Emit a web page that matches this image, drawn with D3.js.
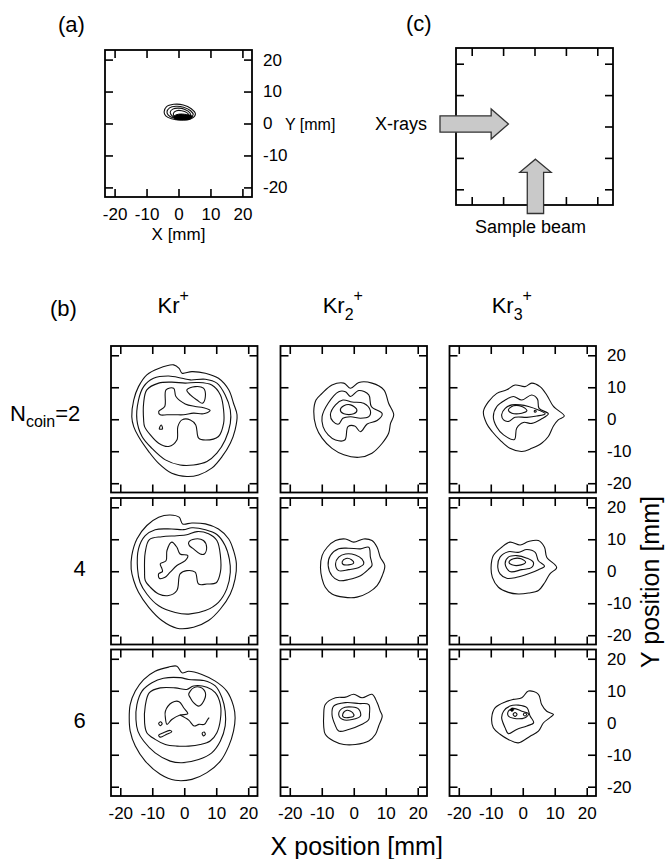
<!DOCTYPE html>
<html>
<head>
<meta charset="utf-8">
<script src="https://cdn.jsdelivr.net/npm/d3@7"></script>
<style>
  body { margin: 0; background: #fff; }
  svg text { font-family: "Liberation Sans", Arial, Helvetica, sans-serif; fill: #000; }
  .frame { fill: none; stroke: #000; stroke-width: 1.8; }
  .tick line { stroke: #000; stroke-width: 1.6; }
  .contour { fill: none; stroke: #111; stroke-width: 1.1; }
  .arrow { fill: #c9c9c9; stroke: #333; stroke-width: 1.3; }
</style>
</head>
<body>
<svg id="chart"></svg>
<script>
'use strict'

const width = 666,
      height = 859

// tick values shared by every panel (mm)
const tickValues = [-20, -10, 0, 10, 20]

// column / row headings of panel (b)
const ionNames = ["Kr", "Kr", "Kr"]
const ionSubs = ["", "2", "3"]
const coinCounts = [2, 4, 6]

// panel (a): contours of the sample beam alone, [x mm, y mm]
const beamContours = [
  [[-4.5,3.6],[-3.8,5.2],[-1.5,6.0],[1.5,5.8],[4.0,4.6],[5.3,3.0],[4.2,1.6],[1.0,1.1],[-2.2,1.5],[-4.0,2.4]],
  [[-3.6,3.6],[-2.8,4.9],[-0.8,5.4],[1.6,5.1],[3.8,4.0],[4.6,2.8],[3.5,1.6],[1.0,1.3],[-1.8,1.8],[-3.2,2.6]],
  [[-2.6,3.5],[-1.8,4.5],[0.0,4.8],[2.0,4.4],[3.6,3.3],[3.8,2.3],[2.4,1.5],[0.5,1.4],[-1.6,2.0]],
  [[-1.6,3.2],[-0.6,4.0],[1.0,4.0],[2.6,3.4],[3.4,2.4],[2.2,1.5],[0.2,1.5],[-1.2,2.1]]
]
const beamCore = [[-1.5,2.2],[0.0,2.9],[2.5,2.8],[4.3,2.2],[3.5,1.3],[1.0,1.1],[-1.0,1.4]]

// panel (c): arrows, [x mm, y mm]
const xrayArrow = [[-30.1,3.4],[-13.8,3.4],[-13.8,5.6],[-8.3,0.8],[-13.8,-4.0],[-13.8,-1.8],[-30.1,-1.8]]
const sampleArrow = [[0.3,-10.4],[5.3,-14.6],[2.9,-14.6],[2.9,-27.7],[-2.3,-27.7],[-2.3,-14.6],[-4.7,-14.6]]

// panel (b), Kr+ ions
const kr1N2 = [
  [[-16.4,0.8],[-15.8,6.0],[-14.3,10.2],[-11.7,13.9],[-8.0,15.9],[-3.3,17.0],[-1.6,15.9],[-0.7,14.4],[2.4,14.9],[6.6,14.4],[10.7,12.8],[13.9,9.2],[15.4,5.0],[16.5,1.4],[15.9,-3.3],[14.4,-7.5],[11.8,-11.7],[8.6,-15.3],[4.5,-17.4],[0.8,-17.9],[-3.9,-16.9],[-8.0,-13.8],[-11.1,-10.1],[-14.3,-5.4],[-15.8,-2.3]],
  [[-14.8,-0.2],[-14.3,6.0],[-12.7,10.2],[-9.6,12.8],[-4.9,13.5],[-0.7,12.8],[1.9,12.3],[6.6,12.5],[10.2,11.3],[12.8,7.6],[14.4,2.9],[14.4,-1.3],[12.8,-6.5],[10.2,-10.6],[7.1,-13.2],[2.9,-14.3],[-1.3,-14.3],[-5.9,-12.7],[-10.1,-9.1],[-13.2,-5.4]],
  [[-12.7,-0.2],[-12.7,5.0],[-11.7,9.2],[-8.0,11.3],[-3.9,11.6],[0.3,11.3],[4.0,11.5],[8.6,10.7],[11.3,7.6],[12.3,2.9],[12.3,-1.3],[10.7,-5.4],[6.6,-6.5],[4.5,-5.9],[3.6,-1.8],[1.9,-0.2],[-0.7,-0.2],[-2.0,-2.3],[-2.3,-6.5],[-4.9,-8.5],[-8.0,-7.5],[-10.6,-4.9],[-12.4,-2.3]],
  [[-8.0,2.4],[-6.1,4.0],[-5.7,9.2],[-3.3,9.7],[-2.6,7.1],[0.3,4.8],[3.4,4.0],[6.0,3.6],[8.1,2.7],[6.0,1.7],[2.9,1.9],[-0.2,1.4],[-2.8,1.4],[-5.4,1.4],[-7.5,1.4]],
  [[0.8,9.2],[3.4,10.2],[6.0,9.7],[6.6,7.1],[5.7,5.0],[4.0,6.0],[1.9,7.6]],
  [[-7.8,-3.0],[-7.2,-1.8],[-6.8,-3.0]]
]
const kr1N4 = [
  [[-16.6,0.7],[-16.4,4.9],[-14.8,10.1],[-11.7,14.3],[-8.0,16.9],[-4.4,17.6],[-1.6,16.9],[-0.5,14.8],[2.4,15.1],[6.6,14.8],[10.7,13.2],[13.9,10.1],[15.4,6.5],[16.3,2.3],[15.9,-2.4],[14.4,-7.1],[11.3,-11.8],[7.6,-15.4],[2.9,-17.5],[-2.3,-17.8],[-7.0,-15.4],[-11.1,-11.3],[-14.3,-6.6],[-15.8,-2.9]],
  [[-14.6,0.7],[-14.3,7.0],[-12.2,11.1],[-9.1,13.0],[-3.9,13.2],[-0.2,13.0],[2.4,13.6],[6.6,13.0],[10.2,11.5],[12.8,8.0],[14.1,3.8],[14.4,-0.3],[13.3,-5.5],[10.7,-9.7],[6.6,-12.3],[1.4,-13.4],[-2.8,-12.9],[-8.0,-10.8],[-11.7,-7.1],[-13.8,-3.5]],
  [[-12.4,-0.3],[-12.2,5.9],[-10.9,9.9],[-7.0,10.8],[-2.3,11.1],[0.8,11.4],[4.0,12.4],[7.6,11.7],[10.2,9.6],[11.3,4.9],[11.3,-0.3],[10.0,-3.6],[7.1,-4.0],[4.5,-4.0],[3.4,-0.3],[0.8,0.2],[-1.3,-0.8],[-2.3,-6.0],[-4.9,-7.6],[-8.0,-7.1],[-10.6,-5.0],[-12.2,-2.9]],
  [[-7.5,2.3],[-5.7,3.3],[-5.4,6.5],[-3.9,9.1],[-2.3,7.5],[-1.3,5.4],[1.1,4.9],[0.3,3.3],[-2.3,1.8],[-4.4,-0.3],[-6.0,-1.9],[-7.8,-2.2],[-8.0,-0.8],[-6.8,-0.1],[-7.0,0.9]],
  [[1.4,9.1],[3.4,10.1],[6.0,9.6],[7.0,7.5],[6.3,5.4],[5.0,5.4],[2.9,7.0],[1.6,8.0]]
]
const kr1N6 = [
  [[-17.2,1.6],[-16.9,5.7],[-15.3,9.9],[-12.7,13.5],[-9.1,16.1],[-4.9,17.4],[-2.3,17.7],[-0.7,15.6],[1.4,16.1],[5.5,15.1],[9.7,13.0],[13.3,9.9],[15.4,5.2],[15.9,1.6],[15.4,-2.6],[13.9,-7.3],[11.3,-12.0],[7.1,-15.6],[2.4,-17.7],[-2.8,-18.0],[-7.5,-16.1],[-12.2,-12.0],[-15.3,-7.3],[-16.9,-2.6]],
  [[-15.1,1.0],[-14.8,5.7],[-13.2,9.9],[-10.1,12.5],[-6.5,13.9],[-1.3,14.1],[1.4,13.5],[6.1,13.2],[9.7,11.5],[11.8,7.8],[12.8,3.6],[12.8,-1.0],[11.3,-5.7],[8.6,-9.4],[4.5,-11.5],[-0.7,-12.5],[-4.4,-12.0],[-9.1,-9.4],[-12.7,-5.7],[-14.5,-2.6]],
  [[-12.4,0.0],[-12.2,5.2],[-10.9,9.4],[-7.5,10.9],[-2.8,10.9],[0.8,10.4],[2.9,11.5],[7.1,11.1],[9.7,9.4],[11.3,5.7],[11.3,1.0],[10.2,-3.1],[8.1,-5.7],[5.0,-6.8],[1.4,-7.3],[-2.3,-7.3],[-5.9,-6.8],[-9.1,-5.2],[-11.7,-3.1]],
  [[-5.9,3.6],[-3.8,6.3],[-1.6,6.6],[-0.2,4.7],[1.1,2.8],[-1.3,2.4],[-3.9,1.0],[-5.4,-0.5],[-5.9,1.6]],
  [[1.4,8.9],[2.9,10.9],[5.0,11.1],[6.6,9.4],[6.1,6.8],[4.5,5.2],[2.9,6.3],[1.9,7.8]],
  [[-8.0,-3.9],[-6.5,-3.1],[-4.4,-2.4],[-3.9,-2.8],[-5.5,-3.6],[-7.5,-4.5]],
  [[-8.0,-0.2],[-7.4,0.3],[-6.9,-0.3],[-7.5,-0.9]],
  [[5.6,-3.3],[6.2,-2.9],[6.6,-3.6],[6.0,-4.1]]
]
// open ridge line inside Kr+ (N=6)
const kr1N6Ridge = [[-1.3,2.4],[1.4,0.8],[3.1,-1.0],[4.6,-0.5],[6.3,-0.5],[7.3,1.0],[7.8,1.6]]

// panel (b), Kr2+ ions
const kr2N2 = [
  [[-12.5,2.4],[-11.8,6.0],[-9.9,8.1],[-6.8,10.7],[-3.1,11.3],[-1.0,9.7],[1.6,11.5],[5.7,11.3],[9.4,9.2],[10.9,5.0],[12.5,1.4],[11.5,-1.3],[10.9,-4.4],[8.9,-7.5],[5.7,-10.6],[1.6,-11.9],[-3.1,-11.1],[-6.8,-9.1],[-9.9,-5.9],[-11.8,-2.3]],
  [[-9.9,0.8],[-8.0,5.0],[-4.7,8.6],[-2.6,8.6],[-1.0,7.1],[1.6,9.0],[4.7,7.6],[5.5,4.0],[8.9,1.7],[7.3,-0.4],[4.2,-1.5],[2.1,-3.9],[0.3,-2.1],[-1.8,-2.3],[-2.8,-6.5],[-5.7,-6.5],[-8.0,-4.9],[-9.6,-2.3]],
  [[-7.3,1.4],[-5.7,4.5],[-3.4,6.0],[-0.5,5.4],[3.1,5.0],[5.2,2.7],[4.7,0.8],[2.1,0.3],[-1.0,0.8],[-3.4,0.3],[-4.7,-1.5],[-6.5,-0.7]],
  [[-4.2,2.9],[-3.1,4.2],[-1.0,4.5],[1.0,2.9],[0.0,1.7],[-3.1,1.7]]
]
const kr2N4 = [
  [[-10.4,1.2],[-9.9,4.9],[-8.3,7.5],[-5.7,9.6],[-2.6,10.1],[0.0,9.1],[3.1,10.1],[5.7,9.6],[7.3,7.5],[8.3,4.4],[9.7,1.8],[8.9,-1.4],[7.3,-4.5],[4.7,-6.6],[1.0,-8.1],[-3.1,-8.1],[-6.8,-7.1],[-8.9,-5.0],[-9.9,-2.4]],
  [[-8.0,1.8],[-7.3,4.9],[-4.7,7.0],[-1.6,7.2],[2.1,7.0],[4.7,7.5],[5.2,4.4],[5.7,1.8],[4.7,0.7],[2.1,-1.4],[-1.6,-2.6],[-4.7,-2.9],[-6.8,-1.4]],
  [[-5.7,2.3],[-4.7,4.4],[-2.6,5.4],[0.5,5.1],[2.6,3.8],[3.1,2.3],[1.6,1.2],[-1.6,0.5],[-4.7,0.2]],
  [[-3.6,3.0],[-2.4,4.0],[-0.7,3.6],[0.0,2.6],[-1.6,2.0],[-3.4,2.2]]
]
const kr2N6 = [
  [[-9.4,2.1],[-8.9,5.7],[-5.7,7.8],[-2.6,8.0],[0.0,8.9],[2.6,7.8],[5.7,8.9],[7.3,6.3],[8.3,3.6],[8.9,2.1],[7.8,-1.0],[6.8,-3.6],[4.7,-5.7],[0.5,-6.8],[-3.1,-6.8],[-6.3,-5.7],[-8.9,-3.6],[-9.4,-1.0]],
  [[-6.8,2.6],[-6.3,5.2],[-2.6,6.3],[1.6,6.0],[4.7,5.7],[4.9,2.6],[4.7,1.0],[2.6,-0.5],[-1.6,-2.1],[-4.7,-2.6],[-5.9,-0.5]],
  [[-4.7,2.6],[-3.6,4.5],[-0.5,4.9],[1.6,4.2],[2.1,2.1],[-0.5,1.0],[-3.4,1.0]],
  [[-3.4,2.8],[-2.1,3.9],[-0.3,3.1],[0.0,2.1],[-1.8,1.6],[-3.3,1.8]]
]

// panel (b), Kr3+ ions
const kr3N2 = [
  [[-12.3,2.4],[-10.7,5.5],[-8.1,8.1],[-5.0,9.2],[-2.4,10.7],[0.7,10.2],[2.8,11.3],[5.4,10.2],[7.5,7.6],[9.6,4.0],[13.0,1.0],[11.1,-0.2],[9.6,-2.1],[8.0,-5.4],[5.9,-7.5],[2.8,-9.1],[-0.3,-10.1],[-4.0,-9.1],[-7.1,-6.5],[-9.5,-3.9],[-11.3,-1.3]],
  [[-9.2,0.8],[-8.1,4.0],[-5.5,6.0],[-2.9,7.1],[-0.3,6.0],[2.8,7.6],[4.6,6.3],[5.1,3.4],[8.0,1.7],[5.7,0.0],[2.8,-1.3],[0.2,-1.0],[-1.9,-2.8],[-2.6,-6.3],[-6.0,-4.9],[-8.1,-2.5]],
  [[-6.6,1.4],[-5.5,3.4],[-3.4,4.5],[-0.8,4.5],[1.8,4.0],[4.9,2.9],[7.0,1.7],[4.4,1.0],[1.3,0.6],[-2.4,0.6],[-4.5,-0.7],[-6.0,-0.2]],
  [[-4.5,2.9],[-2.9,4.2],[-0.3,4.0],[1.3,2.7],[-0.3,1.9],[-3.4,1.9]],
  [[3.6,2.6],[4.0,2.8],[4.2,2.4],[3.8,2.2]]
]
const kr3N4 = [
  [[-9.9,1.2],[-9.2,4.9],[-6.6,7.5],[-4.0,9.1],[-0.8,8.2],[1.8,9.3],[4.9,9.6],[6.8,7.5],[7.5,4.4],[10.6,1.2],[8.5,-0.8],[6.9,-3.5],[4.9,-6.0],[1.8,-6.8],[-1.4,-7.1],[-4.5,-6.6],[-7.6,-5.0],[-9.5,-1.9]],
  [[-7.8,1.2],[-7.1,4.4],[-4.5,6.1],[-1.4,5.9],[1.3,6.8],[3.9,5.9],[4.9,3.3],[6.8,1.6],[4.9,0.5],[1.8,-0.8],[-1.9,-1.9],[-5.0,-2.2],[-7.1,-0.8]],
  [[-5.5,2.3],[-4.5,4.4],[-1.9,4.9],[1.3,4.1],[3.3,2.8],[2.8,1.2],[-0.3,0.5],[-4.0,-0.1]],
  [[-4.3,2.8],[-2.9,3.9],[-0.5,3.9],[0.9,2.8],[-0.5,2.0],[-3.4,2.0]]
]
const kr3N6 = [
  [[-9.7,1.6],[-8.6,4.7],[-5.5,6.5],[-2.9,7.3],[-0.3,7.8],[1.8,9.9],[4.9,8.9],[5.9,5.7],[7.5,3.6],[9.6,2.6],[8.5,1.6],[6.5,0.0],[4.9,-2.6],[2.3,-4.2],[-1.4,-6.3],[-4.5,-5.2],[-7.1,-3.6],[-9.2,-1.6]],
  [[-6.6,1.6],[-6.0,3.6],[-4.0,5.2],[-1.4,5.5],[1.3,4.7],[2.3,2.1],[3.4,0.0],[1.3,-1.0],[-1.9,-2.1],[-4.5,-3.4],[-5.5,-1.6]],
  [[-4.5,3.6],[-2.9,4.5],[-0.3,3.6],[1.8,2.8],[0.7,1.6],[-2.9,1.4],[-4.5,2.1]],
  [[-3.0,2.6],[-2.4,3.2],[-1.8,2.6],[-2.4,2.0]],
  [[0.2,2.6],[0.7,3.1],[1.2,2.6],[0.7,2.1]]
]
const kr3N6Core = [[-3.9,4.0],[-3.3,4.6],[-2.8,4.1],[-3.4,3.6]]

// grid of panel (b): rows = coincidence count, columns = ion
const gridContours = [
  [kr1N2, kr2N2, kr3N2],
  [kr1N4, kr2N4, kr3N4],
  [kr1N6, kr2N6, kr3N6]
]

const svg = d3.select("#chart")
  .attr("width", width)
  .attr("height", height)

const contourLine = d3.line().curve(d3.curveCatmullRomClosed.alpha(0.5))
const openLine = d3.line().curve(d3.curveCatmullRom.alpha(0.5))

// draws a square frame with inward ticks on all four sides, returns the scales
function drawPanel(g, x0, y0, size, half, opts) {
  const x = d3.scaleLinear().domain([-half, half]).range([x0, x0 + size])
  const y = d3.scaleLinear().domain([-half, half]).range([y0 + size, y0])

  const axes = [
    { axis: d3.axisBottom(x), t: [0, y0 + size], lab: opts.bottomLabels },
    { axis: d3.axisTop(x), t: [0, y0], lab: false },
    { axis: d3.axisLeft(y), t: [x0, 0], lab: false },
    { axis: d3.axisRight(y), t: [x0 + size, 0], lab: opts.rightLabels }
  ]
  axes.forEach(a => {
    const ax = g.append("g")
      .attr("transform", "translate(" + a.t + ")")
      .call(a.axis.tickValues(tickValues).tickSize(-8).tickPadding(a.lab ? 11 : 0)
        .tickFormat(a.lab ? (d => String(d)) : ""))   // plain hyphen, as in the figure
    ax.select(".domain").remove()
    ax.selectAll("text").attr("font-size", 17).attr("font-family", null)
  })

  g.append("rect").attr("class", "frame")
    .attr("x", x0).attr("y", y0).attr("width", size).attr("height", size)
  return { x, y }
}

function drawContours(g, s, list) {
  const line = contourLine.x(d => s.x(d[0])).y(d => s.y(d[1]))
  g.selectAll("path.contour")
    .data(list)
    .enter().append("path")
      .attr("class", "contour")
      .attr("d", d => line(d))
}

// ---- panel (a)
const gA = svg.append("g")
const sA = drawPanel(gA, 105, 50, 147, 23, { bottomLabels: true, rightLabels: true })
drawContours(gA, sA, beamContours)
gA.append("path")
  .attr("d", contourLine.x(d => sA.x(d[0])).y(d => sA.y(d[1]))(beamCore))
  .attr("fill", "#000").attr("stroke", "#000")
gA.append("text").attr("x", 58).attr("y", 32).attr("font-size", 22).text("(a)")
gA.append("text").attr("x", 285).attr("y", sA.y(0) + 6).attr("font-size", 16).text("Y [mm]")
gA.append("text").attr("x", 178.5).attr("y", 240).attr("font-size", 17)
  .attr("text-anchor", "middle").text("X [mm]")

// ---- panel (c)
const gC = svg.append("g")
const sC = drawPanel(gC, 456, 48, 157, 25, { bottomLabels: false, rightLabels: false })
const arrowLine = d3.line().x(d => sC.x(d[0])).y(d => sC.y(d[1]))
gC.selectAll("path.arrow")
  .data([xrayArrow, sampleArrow])
  .enter().append("path")
    .attr("class", "arrow")
    .attr("d", d => arrowLine(d) + "Z")
gC.append("text").attr("x", 406).attr("y", 31).attr("font-size", 22).text("(c)")
gC.append("text").attr("x", 375).attr("y", 130).attr("font-size", 18).text("X-rays")
gC.append("text").attr("x", 475).attr("y", 233).attr("font-size", 18).text("Sample beam")

// ---- panel (b)
const gB = svg.append("g")
const colX = [111, 280.5, 449.5]
const rowY = [346, 498, 649.5]
const cell = 146.5

gB.append("text").attr("x", 50).attr("y", 316).attr("font-size", 22).text("(b)")

ionNames.forEach((name, c) => {
  const t = gB.append("text")
    .attr("x", colX[c] + cell / 2 - 11).attr("y", 313)
    .attr("font-size", 22).attr("text-anchor", "middle")
  t.append("tspan").text(name)
  if (ionSubs[c]) {
    t.append("tspan").attr("font-size", 16).attr("dy", 7).text(ionSubs[c])
    t.append("tspan").attr("font-size", 16).attr("dy", -19).text("+")
  } else {
    t.append("tspan").attr("font-size", 16).attr("dy", -12).text("+")
  }
})

coinCounts.forEach((n, r) => {
  const cy = rowY[r] + cell / 2
  if (r === 0) {
    const t = gB.append("text").attr("x", 10).attr("y", cy + 2).attr("font-size", 22)
    t.append("tspan").text("N")
    t.append("tspan").attr("font-size", 16).attr("dy", 6).text("coin")
    t.append("tspan").attr("dy", -6).text("=" + n)
  } else {
    gB.append("text").attr("x", 79.5).attr("y", cy + 5).attr("font-size", 22)
      .attr("text-anchor", "middle").text(n)
  }
})

gridContours.forEach((row, r) => {
  row.forEach((list, c) => {
    const g = gB.append("g")
    const s = drawPanel(g, colX[c], rowY[r], cell, 22.9, { bottomLabels: r === 2, rightLabels: c === 2 })
    drawContours(g, s, list)
    if (r === 2 && c === 0) {
      g.append("path").attr("class", "contour")
        .attr("d", openLine.x(d => s.x(d[0])).y(d => s.y(d[1]))(kr1N6Ridge))
    }
    if (r === 2 && c === 2) {
      g.append("path")
        .attr("d", contourLine.x(d => s.x(d[0])).y(d => s.y(d[1]))(kr3N6Core))
        .attr("fill", "#000").attr("stroke", "#000")
    }
  })
})

gB.append("text")
  .attr("x", colX[1] + cell / 2 + 3).attr("y", 855)
  .attr("font-size", 25).attr("text-anchor", "middle")
  .text("X position [mm]")

gB.append("text")
  .attr("transform", "translate(659,582) rotate(-90)")
  .attr("font-size", 25).attr("text-anchor", "middle")
  .text("Y position [mm]")
</script>
</body>
</html>
